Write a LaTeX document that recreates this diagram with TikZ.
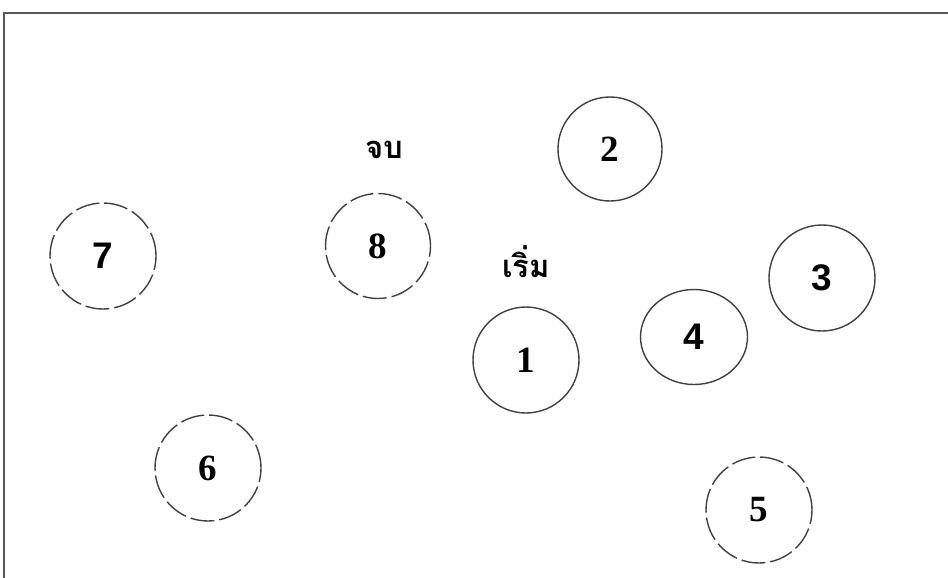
\documentclass[tikz,border=0pt]{standalone}
\usepackage{fontspec}
\setmainfont{Liberation Serif}
\newfontfamily\sansdig{Liberation Sans}
\newfontfamily\thaifont[Script=Thai]{Loma}
\usetikzlibrary{shapes.geometric}
\begin{document}
\begin{tikzpicture}[x=1pt,y=-1pt,
  ring/.style={circle, draw=black!75, line width=1.4pt, minimum size=#1, inner sep=0pt, font=\fontsize{37}{37}\selectfont\bfseries},
  dring/.style={ring=#1, dash pattern=on 24pt off 5pt},
  lbl/.style={font=\thaifont\fontsize{31}{34}\selectfont\bfseries, inner sep=0pt}]
\useasboundingbox (0,0) rectangle (948,578);
\draw[black!65, line width=2pt] (4,578) -- (4,13) -- (948,13);
\node[ring=106pt] (n1) at (526,360) {1};
\node[ring=104pt] (n2) at (610,149) {2};
\node[ring=106pt] (n3) at (822,278) {\sansdig\bfseries 3};
\node[ellipse, draw=black!75, line width=1.4pt, minimum width=107pt, minimum height=95pt, inner sep=0pt, font=\fontsize{37}{37}\selectfont\bfseries] (n4) at (694,337) {\sansdig\bfseries 4};
\node[dring=106pt] (n5) at (759,510) {5};
\node[dring=106pt] (n6) at (208,468) {6};
\node[dring=106pt] (n7) at (103,256) {\sansdig\bfseries 7};
\node[dring=105pt] (n8) at (378,246) {8};
\node[lbl] (end) at (384,150) {จบ};
\node[lbl] (start) at (526,262) {เริ่ม};
\end{tikzpicture}
\end{document}
